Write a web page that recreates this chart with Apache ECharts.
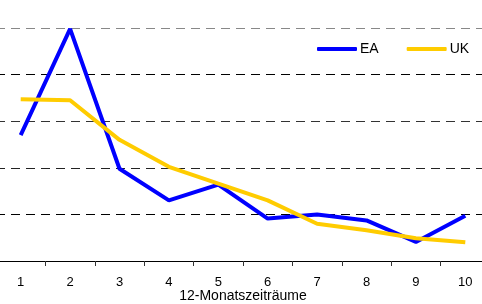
<!DOCTYPE html>
<html>
<head>
<meta charset="utf-8">
<script src="https://cdn.jsdelivr.net/npm/echarts@6/dist/echarts.min.js"></script>
<style>
  html, body { margin: 0; padding: 0; background: #fff; }
  #main { width: 482px; height: 304px; }
</style>
</head>
<body>
<div id="main"></div>
<script>
const periods = ['1', '2', '3', '4', '5', '6', '7', '8', '9', '10'];
const eaValues = [2.70, 4.98, 1.98, 1.30, 1.64, 0.91, 1.00, 0.87, 0.41, 0.97];
const ukValues = [3.47, 3.45, 2.60, 2.02, 1.66, 1.30, 0.80, 0.66, 0.49, 0.40];

const chart = echarts.init(document.getElementById('main'));

var option = {
  animation: false,
  color: ['#0000FF', '#FFCC00'],
  textStyle: { fontFamily: 'Liberation Sans, Arial, sans-serif' },
  legend: {
    left: 317,
    top: 42,
    padding: 0,
    itemWidth: 40,
    itemHeight: 4,
    itemGap: 28,
    icon: 'roundRect',
    textStyle: { fontSize: 14, color: '#000', padding: [0, 0, 0, -2] },
    data: ['EA', 'UK']
  },
  grid: {
    left: -4,
    right: -8,
    top: 28,
    bottom: 43,
    outerBoundsMode: 'none',
    containLabel: false
  },
  xAxis: {
    type: 'category',
    data: periods,
    boundaryGap: true,
    name: '12-Monatszeiträume',
    nameLocation: 'middle',
    nameGap: 28,
    nameMoveOverlap: false,
    nameTextStyle: { fontSize: 14, color: '#000' },
    axisLine: { lineStyle: { color: '#000', width: 1 } },
    axisTick: { show: true, length: 5, lineStyle: { color: '#333', width: 1 } },
    axisLabel: { fontSize: 13, color: '#000', margin: 15 }
  },
  yAxis: {
    type: 'value',
    min: 0,
    max: 5,
    interval: 1,
    axisLine: { show: false },
    axisTick: { show: false },
    axisLabel: { show: false },
    splitLine: {
      // top line is lighter in the original
      lineStyle: { color: ['#000', '#000', '#222', '#333', '#000', '#888'], type: [9, 6], width: 1 }
    }
  },
  series: [{
    name: 'EA',
    type: 'line',
    data: eaValues,
    symbol: 'none',
    lineStyle: { width: 4 }
  }, {
    name: 'UK',
    type: 'line',
    data: ukValues,
    symbol: 'none',
    lineStyle: { width: 4 }
  }]
};

chart.setOption(option);
</script>
</body>
</html>
